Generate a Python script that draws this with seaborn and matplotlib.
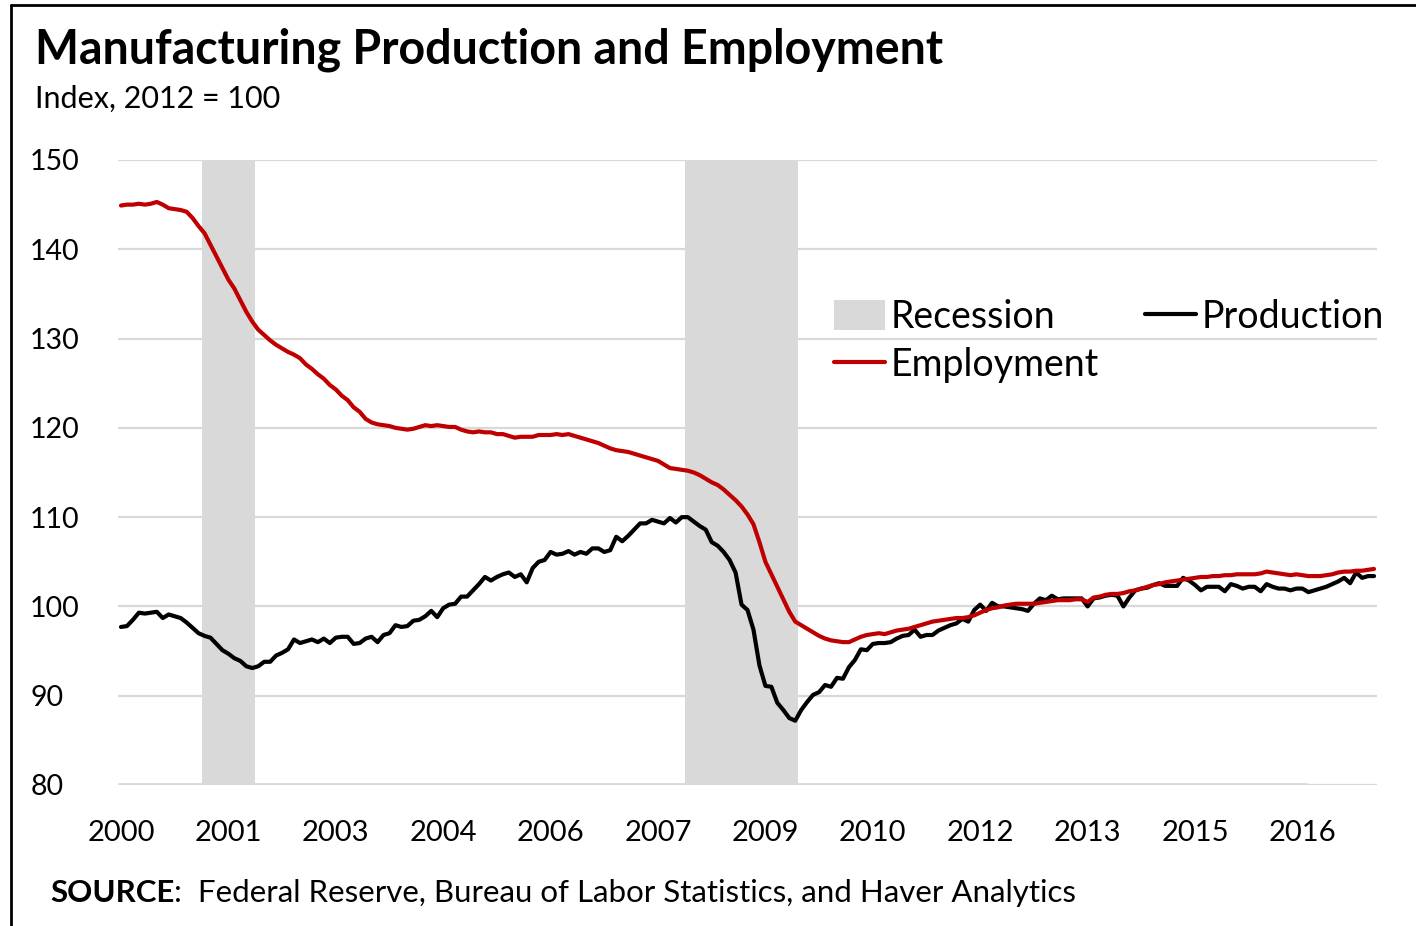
import numpy as np
import pandas as pd
import matplotlib
matplotlib.use("Agg")
import matplotlib.pyplot as plt
import seaborn as sns
from matplotlib.lines import Line2D
from matplotlib.patches import Patch

# monthly index values, Jan 2000 - Jul 2017 (2012 = 100)
production = [
    97.7, 97.8, 98.5, 99.3, 99.2, 99.3, 99.4, 98.7, 99.1, 98.9, 98.7, 98.2,
    97.6, 97.0, 96.7, 96.5, 95.8, 95.1, 94.7, 94.2, 93.9, 93.3, 93.1, 93.3,
    93.8, 93.8, 94.5, 94.8, 95.2, 96.3, 95.9, 96.1, 96.3, 96.0, 96.4, 95.9,
    96.5, 96.6, 96.6, 95.8, 95.9, 96.4, 96.6, 96.0, 96.8, 97.0, 97.9, 97.7,
    97.8, 98.4, 98.5, 98.9, 99.5, 98.8, 99.8, 100.2, 100.3, 101.1, 101.1, 101.8,
    102.5, 103.3, 102.9, 103.3, 103.6, 103.8, 103.3, 103.6, 102.7, 104.3, 105.0, 105.2,
    106.1, 105.8, 105.9, 106.2, 105.8, 106.1, 105.9, 106.5, 106.5, 106.1, 106.3, 107.8,
    107.3, 107.9, 108.6, 109.3, 109.3, 109.7, 109.5, 109.3, 109.9, 109.4, 110.0, 110.0,
    109.5, 109.0, 108.6, 107.2, 106.8, 106.1, 105.2, 103.8, 100.2, 99.6, 97.4, 93.4,
    91.1, 91.0, 89.2, 88.4, 87.5, 87.2, 88.4, 89.3, 90.1, 90.4, 91.2, 91.0,
    92.0, 91.9, 93.2, 94.0, 95.2, 95.1, 95.8, 95.9, 95.9, 96.0, 96.4, 96.7,
    96.8, 97.4, 96.6, 96.8, 96.8, 97.3, 97.6, 97.9, 98.1, 98.6, 98.3, 99.6,
    100.2, 99.5, 100.4, 100.0, 100.0, 99.9, 99.8, 99.7, 99.5, 100.3, 100.9, 100.7,
    101.2, 100.8, 100.9, 100.9, 100.9, 100.9, 100.0, 100.9, 101.0, 101.2, 101.3, 101.2,
    100.0, 101.0, 101.8, 102.0, 102.1, 102.4, 102.6, 102.3, 102.3, 102.3, 103.2, 102.9,
    102.4, 101.8, 102.2, 102.2, 102.2, 101.7, 102.5, 102.3, 102.0, 102.2, 102.2, 101.7,
    102.5, 102.2, 102.0, 102.0, 101.8, 102.0, 102.0, 101.6, 101.8, 102.0, 102.2, 102.5,
    102.8, 103.2, 102.6, 103.8, 103.2, 103.4, 103.4,
]
employment = [
    144.9, 145.0, 145.0, 145.1, 145.0, 145.1, 145.3, 145.0, 144.6, 144.5, 144.4, 144.2,
    143.5, 142.6, 141.8, 140.5, 139.2, 137.9, 136.6, 135.6, 134.3, 133.0, 131.9, 131.0,
    130.4, 129.8, 129.3, 128.9, 128.5, 128.2, 127.8, 127.1, 126.6, 126.0, 125.5, 124.8,
    124.3, 123.6, 123.1, 122.3, 121.8, 121.0, 120.6, 120.4, 120.3, 120.2, 120.0, 119.9,
    119.8, 119.9, 120.1, 120.3, 120.2, 120.3, 120.2, 120.1, 120.1, 119.8, 119.6, 119.5,
    119.6, 119.5, 119.5, 119.3, 119.3, 119.1, 118.9, 119.0, 119.0, 119.0, 119.2, 119.2,
    119.2, 119.3, 119.2, 119.3, 119.1, 118.9, 118.7, 118.5, 118.3, 118.0, 117.7, 117.5,
    117.4, 117.3, 117.1, 116.9, 116.7, 116.5, 116.3, 115.9, 115.5, 115.4, 115.3, 115.2,
    115.0, 114.7, 114.3, 113.9, 113.6, 113.1, 112.5, 111.9, 111.2, 110.3, 109.2, 107.2,
    105.0, 103.6, 102.2, 100.8, 99.4, 98.3, 97.9, 97.5, 97.1, 96.7, 96.4, 96.2,
    96.1, 96.0, 96.0, 96.3, 96.6, 96.8, 96.9, 97.0, 96.9, 97.1, 97.3, 97.4,
    97.5, 97.7, 97.9, 98.1, 98.3, 98.4, 98.5, 98.6, 98.7, 98.7, 98.8, 99.0,
    99.3, 99.6, 99.8, 99.9, 100.1, 100.2, 100.3, 100.3, 100.3, 100.3, 100.4, 100.5,
    100.6, 100.7, 100.7, 100.7, 100.8, 100.8, 100.5, 101.0, 101.1, 101.3, 101.4, 101.4,
    101.5, 101.7, 101.8, 102.0, 102.2, 102.4, 102.5, 102.7, 102.8, 102.9, 103.0, 103.1,
    103.2, 103.3, 103.3, 103.4, 103.4, 103.5, 103.5, 103.6, 103.6, 103.6, 103.6, 103.7,
    103.9, 103.8, 103.7, 103.6, 103.5, 103.6, 103.5, 103.4, 103.4, 103.4, 103.5, 103.6,
    103.8, 103.9, 103.9, 104.0, 104.0, 104.1, 104.2,
]
recession_start = ["2001-03", "2007-12"]
recession_end = ["2001-11", "2009-06"]
y_ticks = [80, 90, 100, 110, 120, 130, 140, 150]

dates = pd.date_range("2000-01-01", periods=len(production), freq="MS")
df = pd.DataFrame({"date": dates, "Production": production, "Employment": employment})
df["idx"] = np.arange(len(df))

in_rec = np.zeros(len(df), dtype=bool)
for s, e in zip(recession_start, recession_end):
    in_rec |= (df["date"] >= pd.Timestamp(s)) & (df["date"] <= pd.Timestamp(e))

sns.set_style("white")
plt.rcParams["font.family"] = ["Lato", "DejaVu Sans"]
plt.rcParams["text.color"] = "black"
plt.rcParams["xtick.color"] = "black"
plt.rcParams["ytick.color"] = "black"

W, H = 1416, 926
fig = plt.figure(figsize=(W / 100, H / 100), dpi=100)
ax = fig.add_axes([118 / W, 1 - 785 / H, 1259 / W, 625 / H])

grid_col = "#d9d9d9"
for v in y_ticks:
    ax.axhline(v, color=grid_col, lw=1.6, zorder=0)
# thicker axis line
ax.hlines(80, -0.5, 198.8, color=grid_col, lw=3.5, zorder=0)

# recession bars
ax.bar(df.loc[in_rec, "idx"], 70, bottom=80, width=1.0, color=grid_col,
       linewidth=0, zorder=1)

sns.lineplot(data=df, x="idx", y="Production", color="black", lw=3, ax=ax, zorder=3)
sns.lineplot(data=df, x="idx", y="Employment", color="#c00000", lw=3, ax=ax, zorder=4)

ax.set_xlim(-0.5, len(df) - 0.5)
ax.set_ylim(80, 150)
ax.set_yticks(y_ticks)
ax.set_yticklabels([str(v) for v in y_ticks], fontsize=20.5)
ax.set_xticks(df["idx"].values[::18])
ax.set_xticklabels([str(d.year) for d in df["date"].iloc[::18]], fontsize=21)
ax.tick_params(axis="both", length=0)
for lab in ax.get_yticklabels():
    lab.set_horizontalalignment("left")
    lab.set_x(-83 / 1259)
ax.tick_params(axis="x", pad=25)
ax.set_xlabel("")
ax.set_ylabel("")
sns.despine(ax=ax, left=True, bottom=True)

handles = [
    Patch(facecolor=grid_col, edgecolor="none", label="Recession"),
    Line2D([], [], color="#c00000", lw=3, label="Employment"),
    Line2D([], [], color="black", lw=3, label="Production"),
]
fig.legend(handles=handles, ncol=2, loc="upper left",
           bbox_to_anchor=(834 / W, 1 - 299 / H), frameon=False,
           fontsize=27, handlelength=1.35, handleheight=0.85, handletextpad=0.15,
           columnspacing=1.25, borderpad=0, borderaxespad=0, labelspacing=0.32)

fig.text(35 / W, 1 - 50 / H, "Manufacturing Production and Employment",
         fontsize=33.5, fontweight="bold", va="center", ha="left")
fig.text(35 / W, 1 - 99 / H, "Index, 2012 = 100", fontsize=22,
         va="center", ha="left")

src = fig.text(50 / W, 1 - 893 / H, "SOURCE", fontsize=22.5, fontweight="bold",
               va="center", ha="left")
fig.canvas.draw()
bb = src.get_window_extent()
fig.text(bb.x1 / W, 1 - 893 / H,
         ":  Federal Reserve, Bureau of Labor Statistics, and Haver Analytics",
         fontsize=22.5, va="center", ha="left")

# frame lines at top and left
fig.add_artist(Line2D([11 / W, 1], [1 - 5 / H, 1 - 5 / H], color="black", lw=2))
fig.add_artist(Line2D([11 / W, 11 / W], [0, 1 - 5 / H], color="black", lw=2))

fig.savefig("out.png", dpi=100)
